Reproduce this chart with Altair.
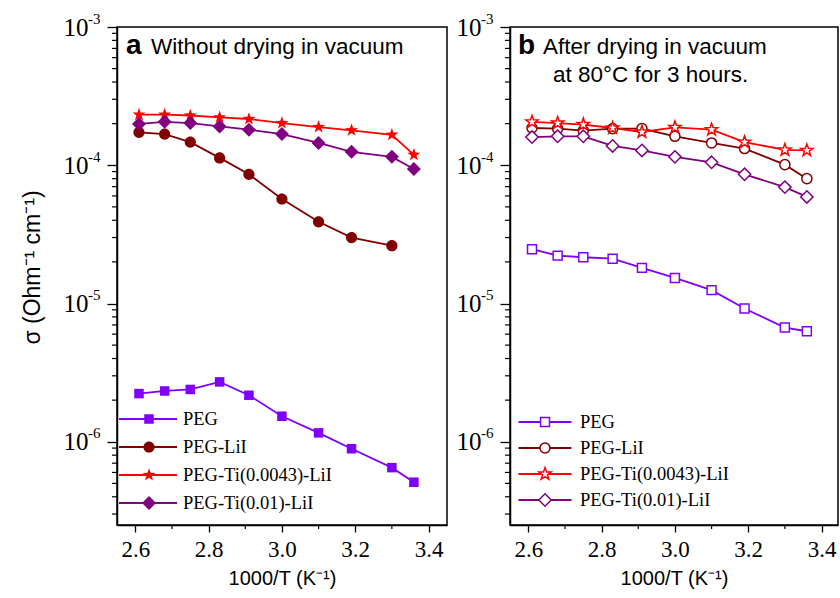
import altair as alt
import pandas as pd

# ---------------- data ----------------
x_vals = [2.61, 2.68, 2.75, 2.83, 2.91, 3.00, 3.10, 3.19, 3.30, 3.36]
series_names = ["PEG", "PEG-LiI", "PEG-Ti(0.0043)-LiI", "PEG-Ti(0.01)-LiI"]
colors = ["#8000ff", "#800000", "#ff0000", "#800080"]

a_peg = [2.23e-6, 2.33e-6, 2.39e-6, 2.71e-6, 2.17e-6, 1.53e-6, 1.16e-6, 8.9e-7, 6.5e-7, 5.1e-7]
a_lii = [1.73e-4, 1.68e-4, 1.47e-4, 1.13e-4, 8.6e-5, 5.7e-5, 3.9e-5, 3.0e-5, 2.62e-5]
a_ti43 = [2.32e-4, 2.32e-4, 2.29e-4, 2.22e-4, 2.16e-4, 2.02e-4, 1.89e-4, 1.79e-4, 1.66e-4, 1.19e-4]
a_ti01 = [1.99e-4, 2.06e-4, 2.02e-4, 1.91e-4, 1.81e-4, 1.68e-4, 1.45e-4, 1.25e-4, 1.15e-4, 9.4e-5]

b_peg = [2.47e-5, 2.22e-5, 2.16e-5, 2.11e-5, 1.81e-5, 1.53e-5, 1.25e-5, 9.2e-6, 6.7e-6, 6.3e-6]
b_lii = [1.86e-4, 1.84e-4, 1.78e-4, 1.84e-4, 1.84e-4, 1.62e-4, 1.45e-4, 1.32e-4, 1.01e-4, 8.0e-5]
b_ti43 = [2.06e-4, 2.02e-4, 1.97e-4, 1.86e-4, 1.74e-4, 1.88e-4, 1.81e-4, 1.47e-4, 1.29e-4, 1.28e-4]
b_ti01 = [1.60e-4, 1.62e-4, 1.62e-4, 1.38e-4, 1.28e-4, 1.15e-4, 1.05e-4, 8.6e-5, 6.95e-5, 5.9e-5]

x_major = [2.6, 2.8, 3.0, 3.2, 3.4]
x_minor = [2.7, 2.9, 3.1, 3.3]
y_decades = [1e-3, 1e-4, 1e-5, 1e-6]
y_exponents = ["-3", "-4", "-5", "-6"]
y_minor = [m * d for d in [1e-7, 1e-6, 1e-5, 1e-4] for m in range(2, 10) if m * d > 2.6e-7]

title_a = ["a", "Without drying in vacuum"]
title_b = ["b", "After drying in vacuum", "at 80\u00b0C for 3 hours."]
x_title = "1000/T (K\u207b\u00b9)"
y_title = "\u03c3 (Ohm\u207b\u00b9 cm\u207b\u00b9)"


def make_df(vals_list):
    rows = []
    for name, vals in zip(series_names, vals_list):
        for xv, yv in zip(x_vals, vals):
            rows.append({"x": xv, "y": yv, "series": name, "key": name})
    return pd.DataFrame(rows)


# ---------------- marker paths ----------------
def f(v):
    return f"{v:.3f}"


def square_path(h):
    return f"M{f(-h)},{f(-h)}L{f(h)},{f(-h)}L{f(h)},{f(h)}L{f(-h)},{f(h)}Z"


def diamond_path(h):
    return f"M0,{f(-h)}L{f(h)},0L0,{f(h)}L{f(-h)},0Z"


def circle_path(r):
    k = 0.5523 * r
    return (f"M{f(r)},0C{f(r)},{f(k)} {f(k)},{f(r)} 0,{f(r)}"
            f"C{f(-k)},{f(r)} {f(-r)},{f(k)} {f(-r)},0"
            f"C{f(-r)},{f(-k)} {f(-k)},{f(-r)} 0,{f(-r)}"
            f"C{f(k)},{f(-r)} {f(r)},{f(-k)} {f(r)},0Z")


def star_path(R):
    import math
    pts = []
    for i in range(10):
        rad = R if i % 2 == 0 else R * 0.40
        ang = math.radians(-90 + 36 * i)
        pts.append((rad * math.cos(ang), rad * math.sin(ang)))
    return "M" + "L".join(f"{f(px)},{f(py)}" for px, py in pts) + "Z"


SERIF = "Liberation Serif"
SANS = "Liberation Sans"
PLOT_H = 498
XPX = 366.5  # pixels per x unit


def panel(df, filled, shapes, width, leg, titles, show_ytitle):
    xdom = [2.55, 2.55 + width / XPX]
    xs = alt.Scale(domain=xdom, nice=False, zero=False)
    ys = alt.Scale(type="log", domain=[2.5e-7, 1e-3], nice=False)

    x_axis = alt.Axis(
        values=x_major, format=".1f", tickSize=7, tickWidth=1.3,
        labelFont=SERIF, labelFontSize=23, labelPadding=6,
        title=x_title, titleFont=SANS, titleFontSize=20, titleFontWeight="normal",
        titlePadding=7, grid=False)
    ykw = dict(values=y_decades, labelExpr="'10'", tickSize=10, tickWidth=1.3,
               labelFont=SERIF, labelFontSize=25, labelPadding=19,
               labelBaseline="middle", grid=False)
    if show_ytitle:
        y_axis = alt.Axis(title=y_title, titleFont=SANS, titleFontSize=23,
                          titleFontWeight="normal", titleX=-85, titleY=240,
                          titleAngle=270, titleBaseline="middle", titleAlign="center",
                          **ykw)
    else:
        y_axis = alt.Axis(title=None, **ykw)

    def X(field):
        return alt.X(field, scale=xs, axis=x_axis)

    def Y(field):
        return alt.Y(field, scale=ys, axis=y_axis)

    base = alt.Chart(df).encode(x=X("x:Q"), y=Y("y:Q"))

    lines = base.mark_line(strokeWidth=1.8).encode(
        stroke=alt.Stroke("series:N", scale=alt.Scale(range=colors), legend=alt.Legend(
            orient="none", legendX=leg["lx"], legendY=leg["ly"], title=None,
            symbolType="stroke", symbolSize=leg["lsize"], symbolStrokeWidth=1.8,
            labelFont=SERIF, labelFontSize=leg["fs"], labelExpr="''",
            clipHeight=leg["ch"], rowPadding=leg["rp"], padding=0)))

    pt_leg = alt.Legend(
        orient="none", legendX=leg["px"], legendY=leg["ly"], title=None,
        symbolSize=196, symbolStrokeWidth=0 if filled else 1.5,
        labelFont=SERIF, labelFontSize=leg["fs"], labelColor="black",
        labelOffset=leg["lo"], clipHeight=leg["ch"], rowPadding=leg["rp"],
        padding=0, **({} if filled else {"symbolFillColor": "white"}))
    if filled:
        points = base.mark_point(filled=True, size=196, opacity=1, strokeWidth=0)
    else:
        points = base.mark_point(filled=False, fill="white", size=196, opacity=1,
                                 strokeWidth=1.5)
    points = points.encode(
        color=alt.Color("key:N", scale=alt.Scale(domain=series_names, range=colors),
                        legend=pt_leg),
        shape=alt.Shape("key:N", scale=alt.Scale(domain=series_names, range=shapes),
                        legend=pt_leg))

    minor_y = alt.Chart(pd.DataFrame({"v": y_minor})).mark_rule(
        color="black", strokeWidth=1.2).encode(
        y=Y("v:Q"), x=alt.value(0), x2=alt.value(-5))
    minor_x = alt.Chart(pd.DataFrame({"v": x_minor})).mark_rule(
        color="black", strokeWidth=1.2).encode(
        x=X("v:Q"), y=alt.value(PLOT_H), y2=alt.value(PLOT_H + 4))

    exps = alt.Chart(pd.DataFrame({"v": y_decades, "e": y_exponents})).mark_text(
        font=SERIF, fontSize=15, align="left", baseline="middle", dy=-8.5,
        color="black").encode(
        y=Y("v:Q"), x=alt.value(-29), text="e:N")

    tl = []
    for (txt, xp, yp, size, bold) in titles:
        tl.append(alt.Chart(pd.DataFrame({"t": [txt]})).mark_text(
            align="left", baseline="alphabetic", font=SANS, fontSize=size,
            fontWeight="bold" if bold else "normal", color="black").encode(
            x=alt.value(xp), y=alt.value(yp), text="t:N"))

    return alt.layer(lines, points, minor_y, minor_x, exps, *tl).properties(
        width=width, height=PLOT_H)


shapes_a = [square_path(0.68), circle_path(0.80), star_path(0.98), diamond_path(1.0)]
shapes_b = [square_path(0.64), circle_path(0.72), star_path(0.92), diamond_path(0.88)]

leg_a = dict(lx=1, px=22.75, ly=382, lsize=3364, fs=18.5, lo=24.75, ch=20, rp=8)
leg_b = dict(lx=7.5, px=25.75, ly=386, lsize=2809, fs=18.5, lo=25.75, ch=18, rp=7)

left = panel(make_df([a_peg, a_lii, a_ti43, a_ti01]), True, shapes_a, 330, leg_a,
             [(title_a[0], 9, 27, 28, True), (title_a[1], 34, 27, 22.5, False)], True)
right = panel(make_df([b_peg, b_lii, b_ti43, b_ti01]), False, shapes_b, 328, leg_b,
              [(title_b[0], 8, 27, 28, True), (title_b[1], 33, 27, 22.5, False),
               (title_b[2], 43, 55, 22.5, False)], False)

chart = alt.hconcat(left, right, spacing=7).resolve_scale(
    color="independent", shape="independent", stroke="independent"
).resolve_legend(color="independent", shape="independent", stroke="independent"
).properties(padding={"left": 20, "top": 10, "right": 0, "bottom": 4}
).configure_view(stroke="black", strokeWidth=1.5
).configure_axis(domainColor="black", domainWidth=1.5, tickColor="black",
                 labelColor="black", titleColor="black")

chart.save("out.html", embed_options={"renderer": "svg", "actions": False})
